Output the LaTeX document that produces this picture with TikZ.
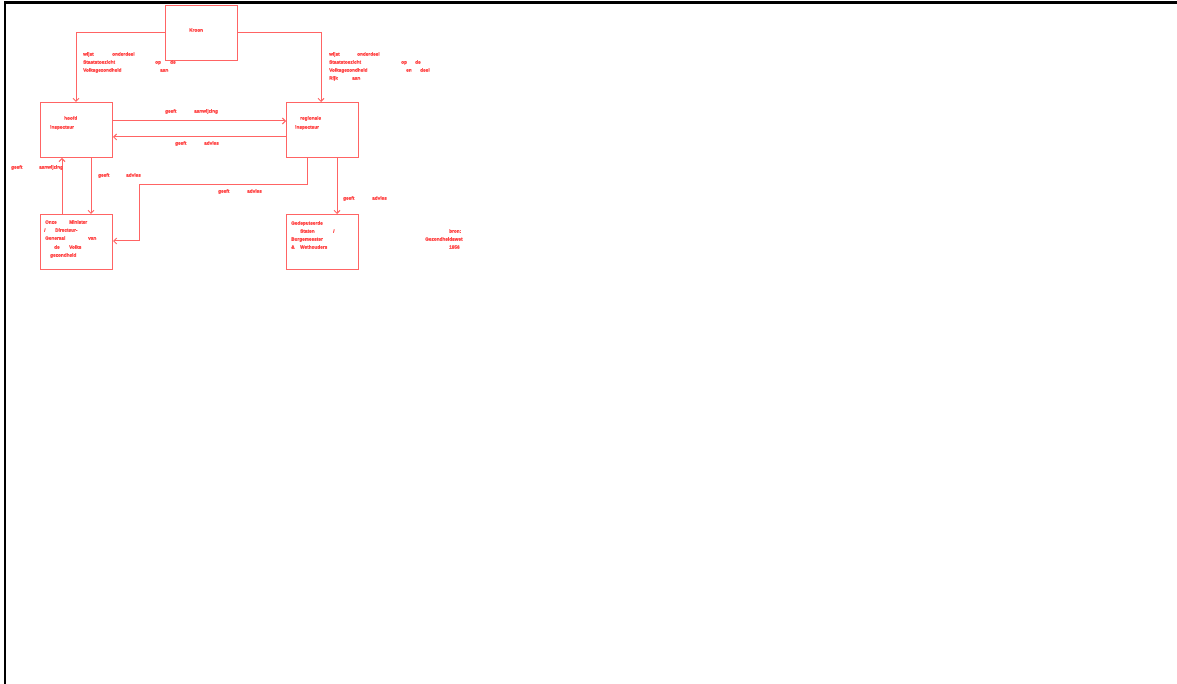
\documentclass[tikz,border=0pt]{standalone}
\usepackage{fontspec}
\setmainfont{Liberation Sans}
\newfontfamily\heavyfont[FakeBold=2.2]{Liberation Sans Bold}
\usetikzlibrary{arrows.meta}
\definecolor{ln}{RGB}{255,100,100}
\definecolor{tx}{RGB}{255,75,75}
\tikzset{
  box/.style={draw=ln, line width=1pt, anchor=north west, inner sep=0pt},
  conn/.style={draw=ln, line width=1pt, -{Straight Barb[length=3pt,width=6pt]}},
  wrd/.style={anchor=west, inner sep=0pt, text=tx, font=\heavyfont\fontsize{4.7}{5}\selectfont, text height=3.4pt, text depth=0pt},
}
\newcommand{\wt}[4]{\node[wrd] (#1) at (#2,-#3) {#4};}
\begin{document}
\begin{tikzpicture}[x=1pt,y=1pt]
\useasboundingbox (0,0) rectangle (1177,-684);
\clip (0,0) rectangle (1177,-684);
\fill[white] (0,0) rectangle (1177,-684);
\draw[black, line width=2.5pt] (5,-700) -- (5,-2.5) -- (1190,-2.5);
% boxes
\node[box, minimum width=72pt, minimum height=55pt] (kroon) at (165,-5) {};
\node[box, minimum width=72pt, minimum height=55pt] (hoofd) at (40,-102) {};
\node[box, minimum width=72pt, minimum height=55pt] (regio) at (286,-102) {};
\node[box, minimum width=72pt, minimum height=55pt] (minis) at (40,-214) {};
\node[box, minimum width=72pt, minimum height=55pt] (gedep) at (286,-214) {};
% connectors
\draw[conn] (kroon.west |- 0,-33) -| (hoofd.north -| 76,0);
\draw[conn] (kroon.east |- 0,-33) -| (regio.north -| 321,0);
\draw[conn] (hoofd.east |- 0,-121) -- (regio.west |- 0,-121);
\draw[conn] (regio.west |- 0,-137) -- (hoofd.east |- 0,-137);
\draw[conn] (minis.north -| 62,0) -- (hoofd.south -| 62,0);
\draw[conn] (hoofd.south -| 91,0) -- (minis.north -| 91,0);
\coordinate (c1) at (307,-185);
\coordinate (c2) at (139,-241);
\draw[conn] (regio.south -| c1) -- (c1) -- (c1 -| c2) -- (c2) -- (minis.east |- c2);
\draw[conn] (regio.south -| 337,0) -- (gedep.north -| 337,0);
% box texts
\wt{k1}{189}{30}{Kroon}
\wt{h1}{64}{118}{hoofd}
\wt{h2}{50}{127}{inspecteur}
\wt{r1}{300}{118}{regionale}
\wt{r2}{295}{127}{inspecteur}
\wt{m1}{45}{222}{Onze}
\wt{m2}{69}{222}{Minister}
\wt{m3}{44}{230}{/}
\wt{m4}{55}{230}{Directeur-}
\wt{m5}{45}{238}{Generaal}
\wt{m6}{88}{238}{van}
\wt{m7}{54}{247}{de}
\wt{m8}{69}{247}{Volks}
\wt{m9}{50}{255}{gezondheid}
\wt{g1}{291}{223}{Gedeputeerde}
\wt{g2}{300}{231}{Staten}
\wt{g3}{333}{231}{/}
\wt{g4}{291}{239}{Burgemeester}
\wt{g5}{291}{247}{\&}
\wt{g6}{300}{247}{Wethouders}
\wt{b1}{449}{231}{bron:}
\wt{b2}{425}{239}{Gezondheidswet}
\wt{b3}{449}{247}{1956}
% left label
\wt{a1}{83}{54}{wijst}
\wt{a2}{112}{54}{onderdeel}
\wt{a3}{83}{62}{Staatstoezicht}
\wt{a4}{155}{62}{op}
\wt{a5}{170}{62}{de}
\wt{a6}{83}{70}{Volksgezondheid}
\wt{a7}{160}{70}{aan}
% right label
\wt{c1t}{329}{54}{wijst}
\wt{c2t}{357}{54}{onderdeel}
\wt{c3t}{329}{62}{Staatstoezicht}
\wt{c4t}{401}{62}{op}
\wt{c5t}{415}{62}{de}
\wt{c6t}{329}{70}{Volksgezondheid}
\wt{c7t}{406}{70}{en}
\wt{c8t}{420}{70}{deel}
\wt{c9t}{329}{78}{Rijk}
\wt{c10t}{352}{78}{aan}
% connector labels
\wt{e1}{165}{111}{geeft}
\wt{e2}{194}{111}{aanwijzing}
\wt{e3}{175}{143}{geeft}
\wt{e4}{204}{143}{advies}
\wt{e5}{11}{167}{geeft}
\wt{e6}{39}{167}{aanwijzing}
\wt{e7}{98}{175}{geeft}
\wt{e8}{126}{175}{advies}
\wt{e9}{218}{191}{geeft}
\wt{e10}{247}{191}{advies}
\wt{e11}{343}{198}{geeft}
\wt{e12}{372}{198}{advies}
\end{tikzpicture}
\end{document}
